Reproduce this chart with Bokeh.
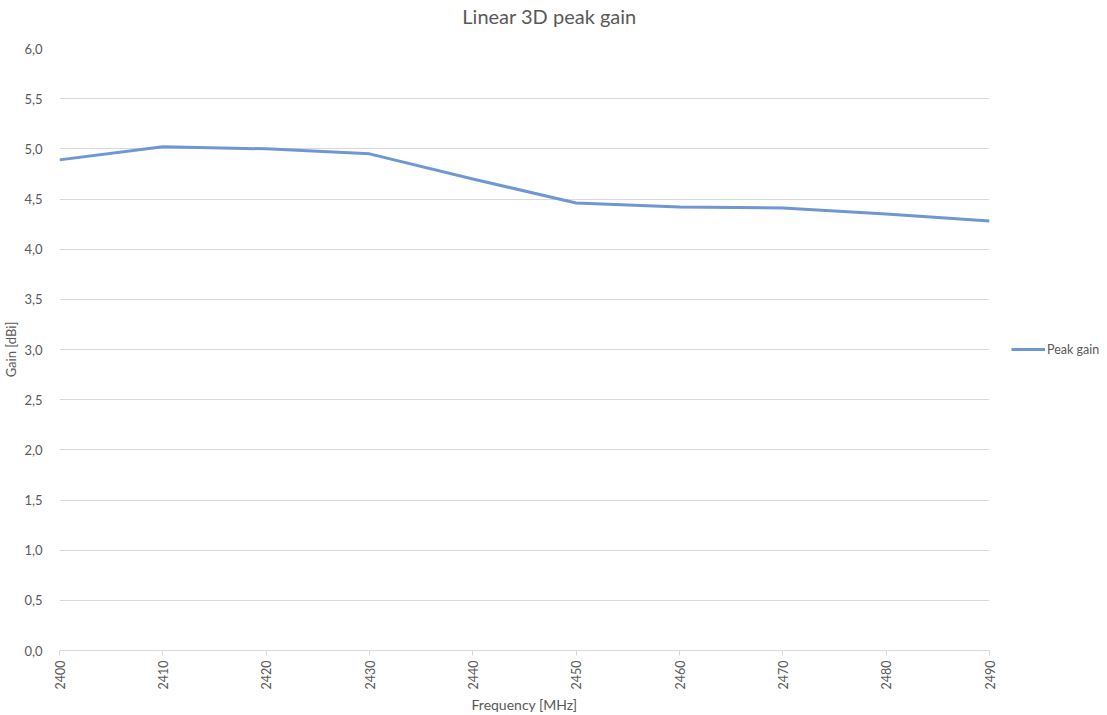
import math
from bokeh.plotting import figure
from bokeh.models import Range1d, FixedTicker, Legend, LegendItem, LinearAxis
from bokeh.embed import file_html
from bokeh.resources import INLINE

# ---- data ----
frequency_mhz = [2400, 2410, 2420, 2430, 2440, 2450, 2460, 2470, 2480, 2490]
peak_gain_dbi = [4.89, 5.02, 5.00, 4.95, 4.70, 4.46, 4.42, 4.41, 4.35, 4.28]
y_ticks = [0.0, 0.5, 1.0, 1.5, 2.0, 2.5, 3.0, 3.5, 4.0, 4.5, 5.0, 5.5, 6.0]
y_tick_labels = ["0,0", "0,5", "1,0", "1,5", "2,0", "2,5", "3,0", "3,5", "4,0", "4,5", "5,0", "5,5", "6,0"]
series_name = "Peak gain"
title_text = "Linear 3D peak gain"
x_label = "Frequency [MHz]"
y_label = "Gain [dBi]"

FONT = "Lato"
GRAY = "#595959"
LINE_COLOR = "#6E97D4"

p = figure(frame_width=930, frame_height=602, output_backend="svg", toolbar_location=None,
           x_range=Range1d(frequency_mhz[0], frequency_mhz[-1]),
           y_range=Range1d(0, 6),
           min_border_left=52, min_border_right=20, min_border_top=41, min_border_bottom=56)

# chart title drawn as the label of an empty axis above the frame;
# leading en-spaces shift it to the centre of the whole chart area
title_axis = LinearAxis(ticker=FixedTicker(ticks=[]), axis_label="\u2002" * 5 + title_text)
title_axis.axis_line_color = None
title_axis.major_tick_line_color = None
title_axis.minor_tick_line_color = None
title_axis.major_label_text_font_size = "0px"
title_axis.major_label_standoff = 0
title_axis.axis_label_text_font = FONT
title_axis.axis_label_text_font_size = "20px"
title_axis.axis_label_text_font_style = "normal"
title_axis.axis_label_text_color = GRAY
title_axis.axis_label_standoff = 21
p.add_layout(title_axis, "above")

p.outline_line_color = None
p.background_fill_color = "white"
p.border_fill_color = "white"

# grids
p.xgrid.grid_line_color = None
p.ygrid.grid_line_color = "#D9D9D9"
p.ygrid.grid_line_width = 1

# y axis
yax = p.yaxis[0]
yax.ticker = FixedTicker(ticks=y_ticks)
yax.major_label_overrides = {t: l for t, l in zip(y_ticks, y_tick_labels)}
yax.axis_line_color = None
yax.major_tick_line_color = None
yax.minor_tick_line_color = None
yax.major_label_text_font = FONT
yax.major_label_text_font_size = "13px"
yax.major_label_text_color = GRAY
yax.major_label_standoff = 11
yax.axis_label = y_label
yax.axis_label_text_font = FONT
yax.axis_label_text_font_size = "13px"
yax.axis_label_text_font_style = "normal"
yax.axis_label_text_color = GRAY
yax.axis_label_standoff = 2

# x axis
xax = p.below[0]
xax.ticker = FixedTicker(ticks=frequency_mhz)
xax.axis_line_color = "#D9D9D9"
xax.major_tick_line_color = "#D9D9D9"
xax.major_tick_out = 5
xax.major_tick_in = 0
xax.minor_tick_line_color = None
xax.major_label_orientation = math.pi / 2
xax.major_label_text_font = FONT
xax.major_label_text_font_size = "12.5px"
xax.major_label_text_color = GRAY
xax.major_label_standoff = 5
xax.axis_label = x_label
xax.axis_label_text_font = FONT
xax.axis_label_text_font_size = "14px"
xax.axis_label_text_font_style = "normal"
xax.axis_label_text_color = GRAY
xax.axis_label_standoff = 4

r = p.line(frequency_mhz, peak_gain_dbi, line_color=LINE_COLOR, line_width=3)

legend = Legend(items=[LegendItem(label=series_name, renderers=[r])],
                location="center_left", orientation="vertical")
legend.border_line_color = None
legend.background_fill_alpha = 0
legend.label_text_font = FONT
legend.label_text_font_size = "12.5px"
legend.label_text_color = GRAY
legend.glyph_width = 34
legend.label_standoff = 2
legend.padding = 0
legend.margin = 22
p.add_layout(legend, "right")

open("out.html", "w").write(file_html(p, INLINE))
